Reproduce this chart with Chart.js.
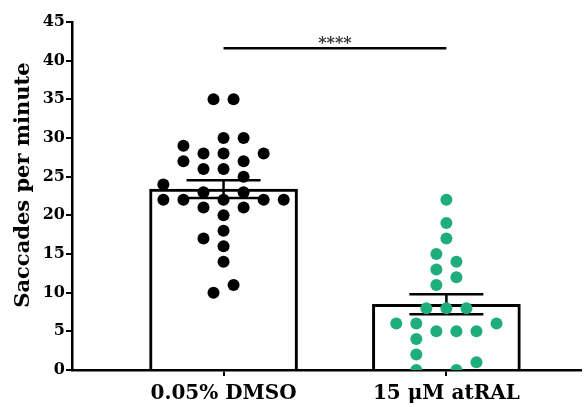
<!DOCTYPE html>
<html>
<head>
<meta charset="utf-8">
<script src="https://cdn.jsdelivr.net/npm/chart.js@4.4.0/dist/chart.umd.min.js"></script>
<style>
  html, body { margin: 0; padding: 0; background: #fff; }
  #wrap { width: 587px; height: 407px; }
</style>
</head>
<body>
<div id="wrap"><canvas id="chart"></canvas></div>
<script>
// data
const GROUPS = ["0.05% DMSO", "15 \u03bcM atRAL"];
const MEANS = [23.4, 8.5];
const SEMS = [1.15, 1.3];

const DMSO_VALUES = [35, 35, 30, 30, 29, 28, 28, 28, 27, 27, 26, 26, 25, 24, 23, 23,
    22, 22, 22, 22, 22, 21, 21, 20, 18, 17, 16, 14, 11, 10];
// horizontal slot of each dot (scatter jitter), same order as values
const DMSO_SLOTS = [-0.5, 0.5, 0, 1, -2, -1, 0, 2, -2, 1, -1, 0, 1, -3, -1, 1,
    -3, -2, 0, 2, 3, -1, 1, 0, 0, -1, 0, 0, 0.5, -0.5];

const ATRAL_VALUES = [22, 19, 17, 15, 14, 13, 12, 11, 8, 8, 8, 6, 6, 6, 5, 5, 5, 4, 2, 1, 0, 0];
const ATRAL_SLOTS = [0, 0, 0, -0.5, 0.5, -0.5, 0.5, -0.5, -1, 0, 1, -2.5, -1.5, 2.5,
    -0.5, 0.5, 1.5, -1.5, -1.5, 1.5, -1.5, 0.5];

const Y_TICKS = [0, 5, 10, 15, 20, 25, 30, 35, 40, 45];
const SIG_LABEL = "****";
const SIG_LEVEL = 41.6;

const FONT = "'DejaVu Serif', 'Liberation Serif', serif";
const GREEN = "#1fae7b";
const JITTER = 0.09;

const dots = (values, slots, pos) =>
    values.map((v, i) => ({ x: pos + slots[i] * JITTER, y: v }));

const errorBars = {
    id: "errorBars",
    afterDatasetDraw(chart, args) {
        if (args.index !== 0) {
            return;
        }
        const { ctx, scales } = chart;
        ctx.save();
        ctx.strokeStyle = "#000";
        ctx.lineWidth = 2.5;
        MEANS.forEach((m, i) => {
            const x = scales.x.getPixelForValue(i + 1);
            const hi = scales.y.getPixelForValue(m + SEMS[i]);
            const lo = scales.y.getPixelForValue(m - SEMS[i]);
            ctx.beginPath();
            ctx.moveTo(x, hi);
            ctx.lineTo(x, lo);
            ctx.moveTo(x - 37, hi);
            ctx.lineTo(x + 37, hi);
            ctx.moveTo(x - 37, lo);
            ctx.lineTo(x + 37, lo);
            ctx.stroke();
        });
        ctx.restore();
    },
};

const significance = {
    id: "significance",
    afterDatasetsDraw(chart) {
        const { ctx, scales } = chart;
        const x1 = scales.x.getPixelForValue(1);
        const x2 = scales.x.getPixelForValue(2);
        const y = scales.y.getPixelForValue(SIG_LEVEL);
        ctx.save();
        ctx.strokeStyle = "#000";
        ctx.lineWidth = 2.5;
        ctx.beginPath();
        ctx.moveTo(x1, y);
        ctx.lineTo(x2, y);
        ctx.stroke();
        ctx.fillStyle = "#333";
        ctx.font = "bold 16px " + FONT;
        ctx.textAlign = "center";
        ctx.textBaseline = "bottom";
        ctx.fillText(SIG_LABEL, (x1 + x2) / 2, y + 4);
        ctx.restore();
    },
};

new Chart(document.getElementById("chart"), {
    data: {
        datasets: [
            {
                type: "bar",
                data: MEANS.map((m, i) => ({ x: i + 1, y: m })),
                backgroundColor: "#fff",
                borderColor: "#000",
                borderWidth: 3,
                barThickness: 148,
                order: 3,
            },
            {
                type: "scatter",
                data: dots(DMSO_VALUES, DMSO_SLOTS, 1),
                backgroundColor: "#000",
                pointRadius: 6,
                pointBorderWidth: 0,
                order: 1,
            },
            {
                type: "scatter",
                data: dots(ATRAL_VALUES, ATRAL_SLOTS, 2),
                backgroundColor: GREEN,
                pointRadius: 6,
                pointBorderWidth: 0,
                order: 1,
            },
        ],
    },
    options: {
        responsive: true,
        maintainAspectRatio: false,
        animation: false,
        events: [],
        layout: { padding: { top: 22, right: 0, bottom: 0, left: 0 } },
        plugins: { legend: { display: false }, tooltip: { enabled: false } },
        scales: {
            x: {
                type: "linear",
                offset: false,
                min: 0.32,
                max: 2.604,
                afterBuildTicks: (s) => { s.ticks = [{ value: 1 }, { value: 2 }]; },
                afterFit: (s) => { s.height = 37; },
                border: { color: "#000", width: 2.5 },
                grid: { offset: false, drawOnChartArea: false, drawTicks: true, tickLength: 6, color: "#000", lineWidth: 2 },
                ticks: {
                    callback: (v) => GROUPS[v - 1],
                    color: "#000",
                    font: { family: FONT, size: 20, weight: "bold" },
                    padding: 6,
                    maxRotation: 0,
                    autoSkip: false,
                },
            },
            y: {
                min: 0,
                max: 45,
                afterBuildTicks: (s) => { s.ticks = Y_TICKS.map((v) => ({ value: v })); },
                afterFit: (s) => { s.width = 72; },
                border: { color: "#000", width: 2.5 },
                grid: { drawOnChartArea: false, drawTicks: true, tickLength: 6, color: "#000", lineWidth: 2 },
                ticks: {
                    color: "#000",
                    font: { family: FONT, size: 16, weight: "bold" },
                    padding: 1,
                },
                title: {
                    display: true,
                    // leading spaces lift the title a little, as in the figure
                    text: "   Saccades per minute",
                    color: "#000",
                    font: { family: FONT, size: 21, weight: "bold" },
                    padding: { top: 11, bottom: 0 },
                },
            },
        },
    },
    plugins: [errorBars, significance],
});
</script>
</body>
</html>
